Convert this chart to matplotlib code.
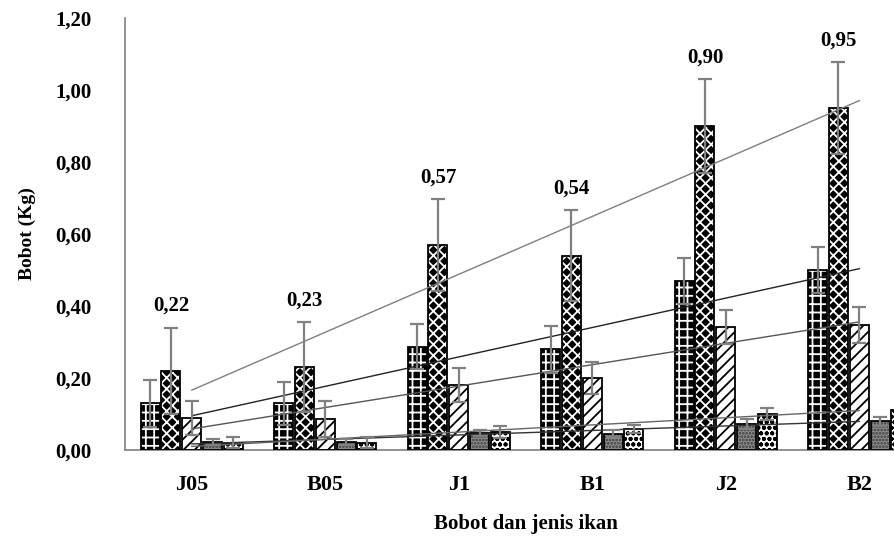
import numpy as np
import matplotlib.pyplot as plt
from matplotlib.ticker import FuncFormatter

plt.rcParams['font.family'] = ['Liberation Serif', 'DejaVu Serif']
plt.rcParams['font.weight'] = 'bold'
plt.rcParams['hatch.linewidth'] = 1.3

groups = ['J05', 'B05', 'J1', 'B1', 'J2', 'B2']
s1 = [0.13, 0.13, 0.287, 0.28, 0.469, 0.50]
s2 = [0.22, 0.23, 0.57, 0.54, 0.90, 0.95]
s3 = [0.089, 0.085, 0.18, 0.20, 0.342, 0.347]
s4 = [0.022, 0.022, 0.047, 0.045, 0.072, 0.08]
s5 = [0.02, 0.02, 0.05, 0.058, 0.10, 0.11]
e1 = [0.065, 0.06, 0.063, 0.065, 0.064, 0.064]
e2 = [0.12, 0.125, 0.128, 0.127, 0.131, 0.128]
e3 = [0.046, 0.05, 0.048, 0.045, 0.047, 0.05]
e4 = [0.008, 0.008, 0.008, 0.01, 0.014, 0.012]
e5 = [0.015, 0.015, 0.016, 0.012, 0.017, 0.015]
top_labels = ['0,22', '0,23', '0,57', '0,54', '0,90', '0,95']

series = [s1, s2, s3, s4, s5]
errors = [e1, e2, e3, e4, e5]
# (face, hatch colour, hatch) per series
styles = [('black', 'white', '++'),
          ('black', 'white', 'xxx'),
          ('white', 'black', '///'),
          ('#8c8c8c', '#3a3a3a', '.....'),
          ('white', 'black', 'ooo')]
trend_colors = ['#222222', '#7f7f7f', '#555555', '#333333', '#666666']

fig = plt.figure(figsize=(8.95, 5.4), dpi=100)
ax = fig.add_axes([0.1397, 0.1667, 0.895, 0.8])

x = np.arange(len(groups))
pitch = 0.156
width = 0.142

for i, (vals, errs) in enumerate(zip(series, errors)):
    pos = x + (i - 2) * pitch
    face, hcol, hatch = styles[i]
    ax.bar(pos, vals, width, color=face, edgecolor=hcol, hatch=hatch, linewidth=0, zorder=2)
    ax.bar(pos, vals, width, color='none', edgecolor='black', linewidth=1.3, zorder=3)
    coef = np.polyfit(x + 1, vals, 1)
    ax.plot([x[0], x[-1]], np.polyval(coef, [1, len(groups)]), color=trend_colors[i],
            linewidth=1.0, zorder=4)
    ax.errorbar(pos, vals, yerr=errs, fmt='none', ecolor='#808080', elinewidth=1.6,
                capsize=5, capthick=1.6, zorder=5)

for j in range(len(groups)):
    ax.text(x[j] - pitch, s2[j] + e2[j] + 0.06, top_labels[j], ha='center', va='center',
            fontsize=15, fontweight='bold')

ax.set_xlim(-0.5, 5.5)
ax.set_ylim(0, 1.2)
ax.set_yticks(np.arange(0, 1.21, 0.2))
ax.yaxis.set_major_formatter(FuncFormatter(lambda v, p: f'{v:.2f}'.replace('.', ',')))
ax.set_xticks(x)
ax.set_xticklabels(groups)
ax.tick_params(axis='y', length=0, pad=24, labelsize=15)
ax.tick_params(axis='x', length=0, pad=18, labelsize=16)
for side in ['top', 'right']:
    ax.spines[side].set_visible(False)
ax.spines['left'].set_color('#808080')
ax.spines['bottom'].set_color('#808080')
ax.spines['left'].set_linewidth(1.2)
ax.spines['bottom'].set_linewidth(1.2)

ax.set_ylabel('Bobot (Kg)', fontsize=14, fontweight='bold', labelpad=14)
ax.set_xlabel('Bobot dan jenis ikan', fontsize=15, fontweight='bold', labelpad=14)

fig.savefig('out.png', dpi=100)
